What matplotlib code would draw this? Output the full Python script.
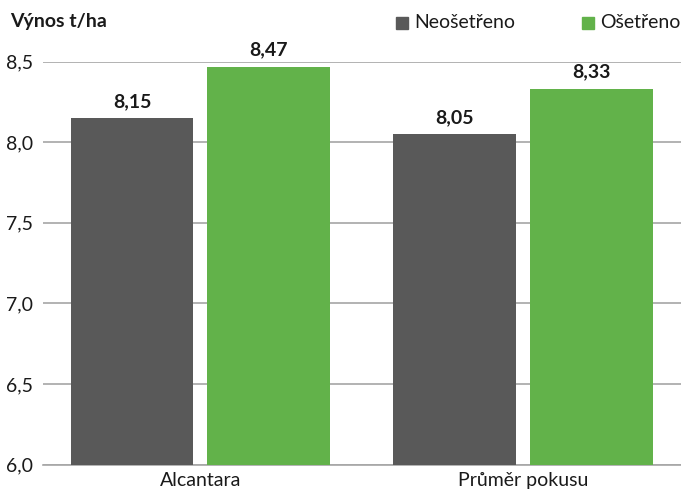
import matplotlib
matplotlib.use("Agg")
import matplotlib.pyplot as plt
import numpy as np
from matplotlib.patches import Rectangle

plt.rcParams["font.family"] = ["Lato", "DejaVu Sans"]

categories = ["Alcantara", "Průměr pokusu"]
series_names = ["Neošetřeno", "Ošetřeno"]
untreated = [8.15, 8.05]
treated = [8.47, 8.33]
yticks = [6.0, 6.5, 7.0, 7.5, 8.0, 8.5]

colors = ["#595959", "#62b24a"]
text_color = "#1a1a1a"

fig = plt.figure(figsize=(6.81, 4.91), dpi=100)
ax = fig.add_axes([0.0631, 0.0536, 0.9369, 0.8208])

x = np.arange(len(categories))
width = 0.381
offset = 0.212
for vals, off, col in [(untreated, -offset, colors[0]), (treated, offset, colors[1])]:
    bars = ax.bar(x + off, vals, width=width, color=col, zorder=3)
    for b, v in zip(bars, vals):
        ax.annotate(f"{v:.2f}".replace(".", ","),
                    (b.get_x() + b.get_width() / 2, v),
                    xytext=(0, 6), textcoords="offset points",
                    ha="center", va="bottom", fontsize=14, fontweight="bold",
                    color=text_color)

ax.set_ylim(6.0, 8.5)
ax.set_xlim(-0.488, 1.49)
ax.set_yticks(yticks)
ax.set_yticklabels([f"{t:.1f}".replace(".", ",") for t in yticks])
ax.set_xticks(x)
ax.set_xticklabels(categories)
ax.tick_params(axis="both", length=0, labelsize=14, colors=text_color)
ax.tick_params(axis="y", pad=7)
ax.tick_params(axis="x", pad=5)
ax.yaxis.grid(True, color="#a6a6a6", linewidth=1.2, zorder=0)
for s in ["top", "right", "left"]:
    ax.spines[s].set_visible(False)
ax.spines["bottom"].set_color("#a6a6a6")
ax.spines["bottom"].set_linewidth(1.2)
ax.set_axisbelow(True)

fig.text(10 / 681, 1 - 22 / 491, "Výnos t/ha", fontsize=14, fontweight="bold",
         color=text_color, ha="left", va="center")

# legend, placed like the original
legend_items = [(396, series_names[0], colors[0]), (582, series_names[1], colors[1])]
for px, name, col in legend_items:
    fig.patches.append(Rectangle((px / 681, 1 - 29 / 491), 12 / 681, 12 / 491,
                                 transform=fig.transFigure, color=col))
    fig.text((px + 18) / 681, 1 - 22 / 491, name, fontsize=14,
             color=text_color, ha="left", va="center")

fig.savefig("out.png", dpi=100)
